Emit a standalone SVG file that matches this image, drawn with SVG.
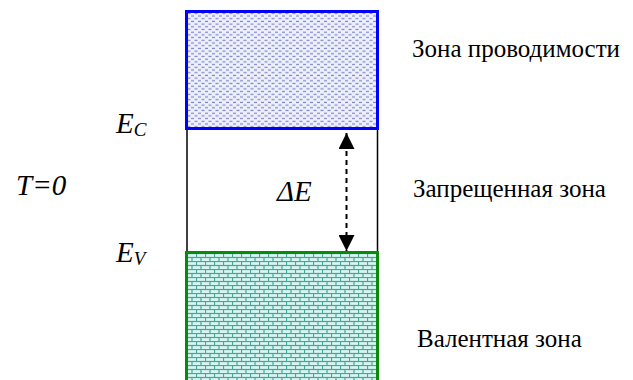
<svg xmlns="http://www.w3.org/2000/svg" width="633" height="380" viewBox="0 0 633 380">
<style>
  .lbl { font-family: 'Liberation Serif', 'Times New Roman', serif; font-size: 25px; fill: #000; }
  .sym { font-family: 'Liberation Serif', 'Times New Roman', serif; font-style: italic; font-size: 29px; fill: #000; }
  .sub { font-size: 19px; }
</style>
<defs>
  <pattern id="dashes" patternUnits="userSpaceOnUse" width="7" height="5.4" x="187" y="12">
    <rect width="7" height="5.4" fill="#eef0fb"/>
    <line x1="0.5" y1="1.3" x2="3.5" y2="1.3" stroke="#7f84cc" stroke-width="1.2"/>
    <line x1="4" y1="4" x2="7" y2="4" stroke="#7f84cc" stroke-width="1.2"/>
  </pattern>
  <pattern id="bricks" patternUnits="userSpaceOnUse" width="9" height="8" x="187" y="253">
    <rect width="9" height="8" fill="#d8f4f1"/>
    <line x1="0" y1="0.5" x2="9" y2="0.5" stroke="#3fa99b" stroke-width="1.2"/>
    <line x1="0" y1="4.5" x2="9" y2="4.5" stroke="#3fa99b" stroke-width="1.2"/>
    <line x1="0.5" y1="0" x2="0.5" y2="4.5" stroke="#3fa99b" stroke-width="1.2"/>
    <line x1="5" y1="4.5" x2="5" y2="8" stroke="#3fa99b" stroke-width="1.2"/>
  </pattern>
  <marker id="ah" viewBox="0 0 10 10" refX="10" refY="5" markerWidth="8" markerHeight="8" orient="auto-start-reverse" markerUnits="strokeWidth">
    <path d="M0,0 L10,5 L0,10 z" fill="#000"/>
  </marker>
</defs>
<g id="gap">
  <line x1="187" y1="128" x2="187" y2="253" stroke="#000" stroke-width="1.5"/>
  <line x1="377.5" y1="128" x2="377.5" y2="253" stroke="#000" stroke-width="1.5"/>
</g>
<g id="conduction-band">
  <rect x="186.5" y="11.5" width="191" height="117" fill="url(#dashes)" stroke="#0000ff" stroke-width="3"/>
</g>
<g id="valence-band">
  <rect x="186.5" y="252.5" width="191" height="140" fill="url(#bricks)" stroke="#0a8a0a" stroke-width="3"/>
</g>
<g id="connectors">
  <line x1="346.5" y1="133" x2="346.5" y2="251" stroke="#000" stroke-width="2" stroke-dasharray="5,4" marker-start="url(#ah)" marker-end="url(#ah)"/>
</g>
<g id="labels">
  <text class="sym" x="116" y="133">E<tspan class="sub" dy="3">C</tspan></text>
  <text class="sym" x="116" y="262">E<tspan class="sub" dy="3">V</tspan></text>
  <text class="sym" x="277" y="201">ΔE</text>
  <text class="sym" x="16" y="195">T=0</text>
  <text class="lbl" x="412" y="57">Зона проводимости</text>
  <text class="lbl" x="413" y="197">Запрещенная зона</text>
  <text class="lbl" x="417" y="347">Валентная зона</text>
</g>
</svg>
